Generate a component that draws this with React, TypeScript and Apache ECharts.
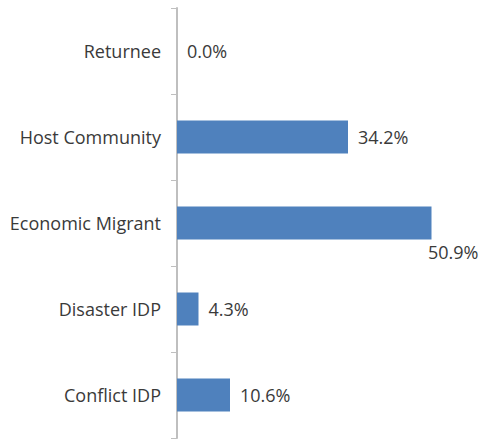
import React, { useEffect, useRef } from "react";
import * as echarts from "echarts";

const categories = ["Conflict IDP", "Disaster IDP", "Economic Migrant", "Host Community", "Returnee"];
const values = [10.6, 4.3, 50.9, 34.2, 0.0];

export default function App() {
  const ref = useRef<HTMLDivElement>(null);
  useEffect(() => {
    const chart = echarts.init(ref.current!, null, { renderer: "svg" });
    const font = "'Open Sans', sans-serif";
    chart.setOption({
      animation: false,
      grid: { left: 177, top: 8, width: 300, height: 430 },
      xAxis: { type: "value", min: 0, max: 60, show: false },
      yAxis: {
        type: "category",
        data: categories,
        axisLine: { show: true, lineStyle: { color: "#bfbfbf", width: 2 } },
        axisTick: { show: true, length: 6, lineStyle: { color: "#bfbfbf" } },
        axisLabel: { color: "#3a3a3a", fontSize: 18, fontFamily: font, margin: 16 },
      },
      series: [
        {
          type: "bar",
          data: values.map((v) =>
            v > 45
              ? { value: v, label: { position: [251, 36], distance: 0 } }
              : v
          ),
          barWidth: 33,
          itemStyle: { color: "#4f81bd" },
          label: {
            show: true,
            position: "right",
            distance: 10,
            formatter: (p: any) => p.value.toFixed(1) + "%",
            color: "#3a3a3a",
            fontSize: 18,
            fontFamily: font,
          },
        },
      ],
    });
    return () => chart.dispose();
  }, []);
  return <div ref={ref} style={{ width: 484, height: 441, position: "absolute", left: 0, top: 0 }} />;
}
